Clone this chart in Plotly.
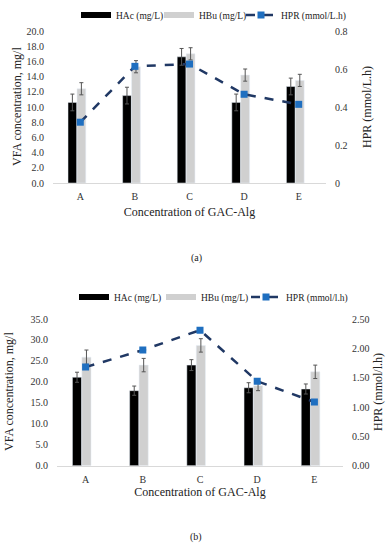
import plotly.graph_objects as go

categories = ["A", "B", "C", "D", "E"]

# Panel (a)
hac_a = [10.6, 11.5, 16.6, 10.6, 12.7]
hac_a_err = [1.1, 1.1, 1.1, 1.1, 1.1]
hbu_a = [12.4, 15.3, 17.0, 14.2, 13.5]
hbu_a_err = [0.8, 0.8, 0.8, 0.8, 0.8]
hpr_a = [0.32, 0.614, 0.626, 0.467, 0.414]

# Panel (b)
hac_b = [21.1, 17.9, 24.0, 18.6, 18.3]
hac_b_err = [1.2, 1.1, 1.3, 1.2, 1.2]
hbu_b = [25.9, 24.0, 28.7, 19.1, 22.4]
hbu_b_err = [1.7, 1.6, 1.6, 1.2, 1.6]
hpr_b = [1.68, 1.97, 2.31, 1.44, 1.085]

left_ticks_a = [0, 2, 4, 6, 8, 10, 12, 14, 16, 18, 20]
right_ticks_a = [0, 0.2, 0.4, 0.6, 0.8]
right_ticktext_a = ["0", "0.2", "0.4", "0.6", "0.8"]
left_ticks_b = [0, 5, 10, 15, 20, 25, 30, 35]
right_ticks_b = [0, 0.5, 1.0, 1.5, 2.0, 2.5]

FONT = "Liberation Serif"
BLACK = "#000000"
GRAY = "#D0D0D0"
LINE = "#203864"
MARK = "#1F6FC0"
ERR = "#555555"
TXT = "#222222"

W, H = 392, 550
def px_x(a, b):
    return [a / W, b / W]
def px_y(top, bottom):
    return [1 - bottom / H, 1 - top / H]

fig = go.Figure()

def add_panel(hac, hac_err, hbu, hbu_err, hpr, xa, ya, ya2, legends, hpr_name, off_black, off_gray):
    fig.add_trace(go.Bar(x=categories, y=hac, marker_color=BLACK, name="HAc (mg/L)",
                         width=0.16, offset=off_black,
                         error_y=dict(type="data", array=hac_err, color=ERR, thickness=1, width=2),
                         xaxis=xa, yaxis=ya, showlegend=False))
    fig.add_trace(go.Bar(x=categories, y=hbu, marker_color=GRAY, name="HBu (mg/L)",
                         width=0.16, offset=off_gray,
                         error_y=dict(type="data", array=hbu_err, color=ERR, thickness=1, width=2),
                         xaxis=xa, yaxis=ya, showlegend=False))
    fig.add_trace(go.Scatter(x=categories, y=hpr, mode="lines+markers", name=hpr_name,
                             line=dict(color=LINE, width=2.5, dash="dash"),
                             marker=dict(symbol="square", size=7, color=MARK),
                             xaxis=xa, yaxis=ya2, showlegend=False))
    # legend-only entries (wide swatches like the original)
    fig.add_trace(go.Scatter(x=[None], y=[None], mode="lines", name="HAc (mg/L)",
                             line=dict(color=BLACK, width=6), xaxis=xa, yaxis=ya, legend=legends[0]))
    fig.add_trace(go.Scatter(x=[None], y=[None], mode="lines", name="HBu (mg/L)",
                             line=dict(color=GRAY, width=6), xaxis=xa, yaxis=ya, legend=legends[1]))
    fig.add_trace(go.Scatter(x=[None], y=[None], mode="lines+markers", name=hpr_name,
                             line=dict(color=LINE, width=2.5, dash="dash"),
                             marker=dict(symbol="square", size=7, color=MARK),
                             xaxis=xa, yaxis=ya2, legend=legends[2]))

add_panel(hac_a, hac_a_err, hbu_a, hbu_a_err, hpr_a, "x", "y", "y2",
          ["legend", "legend2", "legend3"], "HPR (mmol/L.h)", -0.225, -0.06)
add_panel(hac_b, hac_b_err, hbu_b, hbu_b_err, hpr_b, "x2", "y3", "y4",
          ["legend4", "legend5", "legend6"], "HPR (mmol/l.h)", -0.23, -0.065)

tickfont = dict(family=FONT, size=10, color="#333333")
titlefont = dict(family=FONT, size=12, color=TXT)

xcommon = dict(showgrid=False, showline=True, linecolor="#D9D9D9", linewidth=1,
               ticks="outside", ticklen=4, tickcolor="rgba(0,0,0,0)",
               tickfont=tickfont, zeroline=False)
ycommon = dict(showgrid=False, showline=False, zeroline=False, tickfont=tickfont,
               ticks="outside", ticklen=6, tickcolor="rgba(0,0,0,0)")

def ytitle(text, x, y):
    return dict(text=text, x=x / W, y=1 - y / H, xref="paper", yref="paper", showarrow=False,
                textangle=-90, xanchor="center", yanchor="middle", font=titlefont)

def leg(xpx, ypx):
    return dict(orientation="h", x=(xpx - 4) / W, y=1 - ypx / H, xanchor="left", yanchor="middle",
                font=dict(family=FONT, size=9.5, color=TXT), itemwidth=30,
                bgcolor="rgba(0,0,0,0)")

fig.update_layout(
    width=W, height=H, margin=dict(l=0, r=0, t=0, b=0, autoexpand=False),
    paper_bgcolor="white", plot_bgcolor="white",
    barmode="group", bargap=0.66, bargroupgap=0,
    font=dict(family=FONT),
    xaxis=dict(domain=px_x(53, 326), anchor="y",
               title=dict(text="Concentration of GAC-Alg", font=titlefont, standoff=6), **xcommon),
    yaxis=dict(domain=px_y(31, 183), anchor="x", range=[0, 20], tickvals=left_ticks_a,
               tickformat=".1f", **ycommon),
    yaxis2=dict(domain=px_y(31, 183), anchor="x", overlaying="y", side="right", range=[0, 0.8],
                tickvals=right_ticks_a, ticktext=right_ticktext_a, **ycommon),
    xaxis2=dict(domain=px_x(57, 343), anchor="y3",
                title=dict(text="Concentration of GAC-Alg", font=titlefont, standoff=3), **xcommon),
    yaxis3=dict(domain=px_y(319, 465.7), anchor="x2", range=[0, 35], tickvals=left_ticks_b,
                tickformat=".1f", **ycommon),
    yaxis4=dict(domain=px_y(319, 465.7), anchor="x2", overlaying="y3", side="right", range=[0, 2.5],
                tickvals=right_ticks_b, tickformat=".2f", **ycommon),
    legend=leg(80, 15), legend2=leg(163, 15), legend3=leg(245, 15),
    legend4=leg(78, 297), legend5=leg(165, 297), legend6=leg(250, 297),
    annotations=[
        ytitle("VFA concentration, mg/l", 17, 107),
        ytitle("HPR (mmol/L.h)", 367, 107),
        ytitle("VFA concentration, mg/l", 9, 392),
        ytitle("HPR (mmol/l.h)", 378, 392),
        dict(text="(a)", x=0.5, y=1 - 258 / H, xref="paper", yref="paper", showarrow=False,
             yanchor="middle", font=dict(family=FONT, size=10, color=TXT)),
        dict(text="(b)", x=0.5, y=1 - 537 / H, xref="paper", yref="paper", showarrow=False,
             yanchor="middle", font=dict(family=FONT, size=10, color=TXT)),
    ],
)

fig.write_html("out.html", config={"displayModeBar": False},
               post_script="document.body.style.margin='0';document.body.style.overflow='hidden';")
